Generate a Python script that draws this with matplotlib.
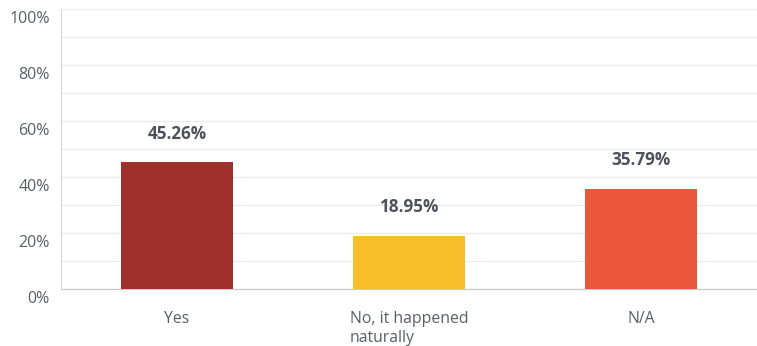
import matplotlib
matplotlib.use("Agg")
import matplotlib.pyplot as plt
import matplotlib.transforms as mtransforms
import numpy as np

categories = ["Yes", "No, it happened\nnaturally", "N/A"]
percentages = [45.26, 18.95, 35.79]
barColors = ["#a0302b", "#f8bf2b", "#eb573b"]
yTickValues = [0, 20, 40, 60, 80, 100]

plt.rcParams["font.family"] = ["Open Sans", "DejaVu Sans"]

fig = plt.figure(figsize=(7.57, 3.46), dpi=100)
ax = fig.add_axes([61/757, (346-289)/346, 1 - 61/757, (289-9)/346])

x = np.arange(len(categories))
ax.bar(x, percentages, width=0.48, color=barColors, zorder=3)

for xi, value in zip(x, percentages):
    ax.annotate(f"{value:.2f}%", (xi, value), xytext=(0, 14), textcoords="offset points",
                ha="center", va="bottom", fontsize=12.3, fontweight="bold", color="#4d525a")

ax.set_xlim(-0.5, len(categories) - 0.5)
ax.set_ylim(0, 100)
ax.set_yticks(yTickValues)
ax.set_yticklabels([f"{v}%" for v in yTickValues])
ax.set_yticks(np.arange(0, 101, 10), minor=True)
ax.grid(axis="y", which="both", color="#ebebeb", linewidth=1, zorder=0)
ax.set_xticks(x)
ax.set_xticklabels(categories, multialignment="left", linespacing=1.2)

ax.tick_params(axis="y", which="both", length=0, labelsize=11.5, labelcolor="#5a5f66", pad=8)
ax.tick_params(axis="x", length=0, labelsize=11.3, labelcolor="#5a5f66", pad=16)

# push y labels below their grid line
offset = mtransforms.ScaledTranslation(0, -8/100, fig.dpi_scale_trans)
for label in ax.get_yticklabels():
    label.set_transform(label.get_transform() + offset)

for side in ["top", "right"]:
    ax.spines[side].set_visible(False)
ax.spines["left"].set_color("#d6d6d6")
ax.spines["bottom"].set_color("#c8c8c8")

fig.savefig("out.png", dpi=100)
